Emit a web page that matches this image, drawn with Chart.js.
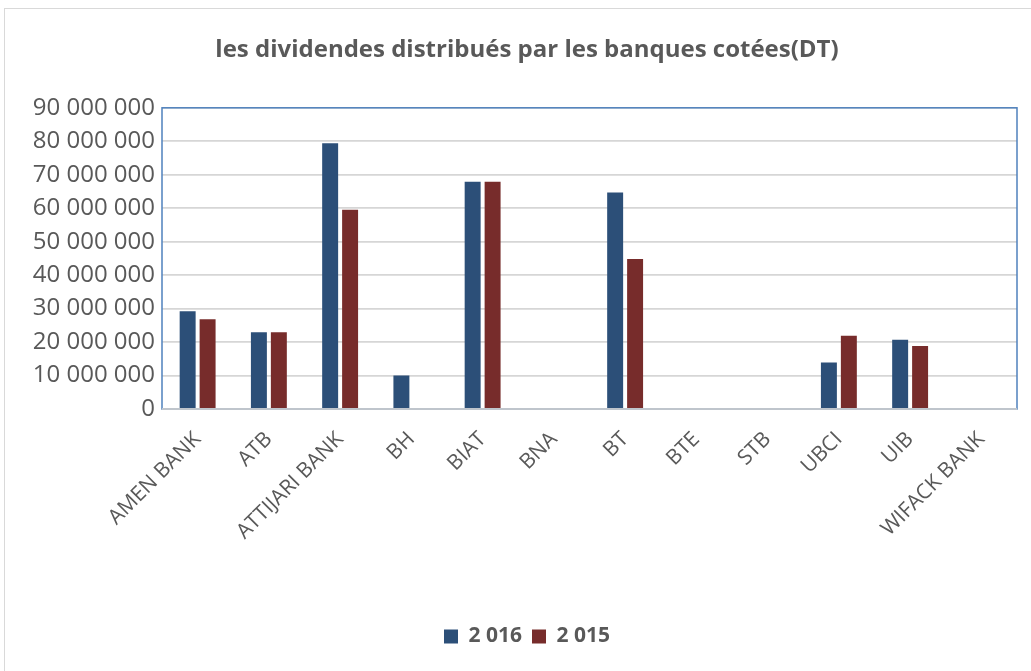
<!DOCTYPE html>
<html>
<head>
<meta charset="utf-8">
<script src="https://cdn.jsdelivr.net/npm/chart.js"></script>
<style>
  html, body { margin: 0; background: #fff; overflow: hidden; }
  #wrap {
    position: absolute; left: 4px; top: 8px;
    width: 1044px; height: 662px;
    border-left: 1px solid #d9d9d9; border-top: 1px solid #d9d9d9;
  }
</style>
</head>
<body>
<div id="wrap"><canvas id="dividendes"></canvas></div>
<script>
// banques cotées
const banques = ["AMEN BANK", "ATB", "ATTIJARI BANK", "BH", "BIAT", "BNA",
                 "BT", "BTE", "STB", "UBCI", "UIB", "WIFACK BANK"];

// dividendes (DT)
const div2016 = [29200000, 22900000, 79400000, 10000000, 67900000, 0,
                 64700000, 0, 0, 13900000, 20700000, 0];
const div2015 = [26800000, 22900000, 59500000, 0, 67900000, 0,
                 44800000, 0, 0, 21900000, 18800000, 0];

const yTickLabels = ["0", "10 000 000", "20 000 000", "30 000 000", "40 000 000",
                     "50 000 000", "60 000 000", "70 000 000", "80 000 000", "90 000 000"];

const grey = "#595959";

// cadre bleu autour de la zone de tracé
const cadre = {
    id: "cadre",
    afterDatasetsDraw(chart) {
        const a = chart.chartArea;
        const ctx = chart.ctx;
        ctx.save();
        ctx.strokeStyle = "#4f81bd";
        ctx.lineWidth = 1.5;
        ctx.strokeRect(a.left, a.top, a.right - a.left, a.bottom - a.top);
        ctx.strokeStyle = "#bfc5cc";
        ctx.lineWidth = 2;
        ctx.beginPath();
        ctx.moveTo(a.left, a.bottom);
        ctx.lineTo(a.right, a.bottom);
        ctx.stroke();
        ctx.restore();
    }
};

var ctx = document.getElementById("dividendes").getContext("2d");
var myChart = new Chart(ctx, {
    type: "bar",
    data: {
        labels: banques,
        datasets: [{
            label: "2 016",
            data: div2016,
            backgroundColor: "#2c4f78",
            categoryPercentage: 0.56,
            barPercentage: 0.8
        },
        {
            label: "2 015",
            data: div2015,
            backgroundColor: "#772c2b",
            categoryPercentage: 0.56,
            barPercentage: 0.8
        }]
    },
    options: {
        responsive: true,
        maintainAspectRatio: false,
        animation: false,
        layout: {
            padding: { left: 0, right: 0, top: 0, bottom: 14 }
        },
        plugins: {
            title: {
                display: true,
                text: "les dividendes distribués par les banques cotées(DT)",
                color: grey,
                font: { family: "Open Sans", size: 24, weight: "bold" },
                padding: { top: 27, bottom: 43 }
            },
            legend: {
                position: "bottom",
                labels: {
                    color: grey,
                    boxWidth: 14,
                    boxHeight: 14,
                    padding: 10,
                    font: { family: "Open Sans", size: 21, weight: "bold" }
                }
            },
            tooltip: { enabled: false }
        },
        scales: {
            x: {
                grid: { display: false },
                border: { display: false },
                ticks: {
                    color: grey,
                    maxRotation: 45,
                    minRotation: 45,
                    autoSkip: false,
                    padding: 10,
                    font: { family: "Open Sans", size: 21 }
                },
                afterFit(scale) { scale.height = 207; }
            },
            y: {
                min: 0,
                max: 90000000,
                grid: { color: "#d6d6d6", lineWidth: 1.8, drawTicks: false },
                border: { display: false },
                ticks: {
                    stepSize: 10000000,
                    color: grey,
                    padding: 7,
                    font: { family: "Open Sans", size: 24 },
                    callback: (v, i) => yTickLabels[i]
                },
                afterFit(scale) { scale.width = 157; }
            },
            // marge à droite du tracé (vide)
            marge: {
                type: "linear",
                position: "right",
                grid: { display: false },
                border: { display: false },
                ticks: { display: false },
                afterFit(scale) { scale.width = 32; }
            }
        }
    },
    plugins: [cadre]
});
</script>
</body>
</html>
